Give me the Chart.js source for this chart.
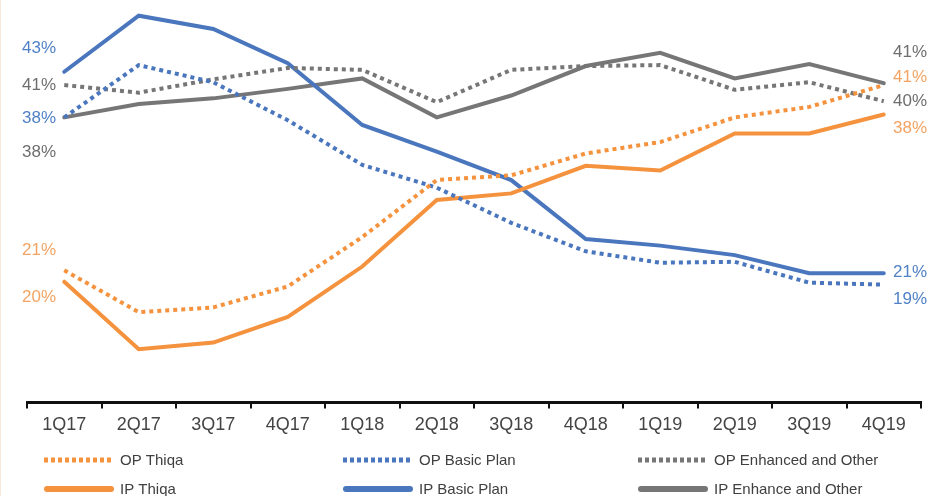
<!DOCTYPE html>
<html>
<head>
<meta charset="utf-8">
<script src="https://cdn.jsdelivr.net/npm/chart.js@4/dist/chart.umd.min.js"></script>
<style>
  html, body { margin: 0; padding: 0; background: #fff; }
  #wrap { position: relative; width: 929px; height: 496px; border-left: 1px solid #f6e9dc; box-sizing: border-box; }
</style>
</head>
<body>
<div id="wrap"><canvas id="chart" width="928" height="496"></canvas></div>
<script>
// 분기 라벨
const quarters = ["1Q17", "2Q17", "3Q17", "4Q17", "1Q18", "2Q18", "3Q18", "4Q18", "1Q19", "2Q19", "3Q19", "4Q19"];

// 시리즈 값 (%), 그림에서 읽은 추정치
const opThiqa    = [22.1, 17.7, 18.2, 20.4, 25.6, 31.6, 32.1, 34.4, 35.6, 38.2, 39.3, 41.6];
const ipThiqa    = [20.9, 13.8, 14.5, 17.2, 22.5, 29.5, 30.2, 33.1, 32.6, 36.5, 36.5, 38.5];
const opBasic    = [38.2, 43.7, 41.9, 37.9, 33.2, 30.8, 27.1, 24.1, 22.9, 23.0, 20.8, 20.6];
const ipBasic    = [43.0, 48.9, 47.5, 43.9, 37.4, 34.6, 31.6, 25.4, 24.7, 23.7, 21.8, 21.8];
const opEnhanced = [41.6, 40.8, 42.2, 43.4, 43.2, 39.8, 43.2, 43.6, 43.7, 41.1, 41.9, 39.9];
const ipEnhanced = [38.2, 39.6, 40.2, 41.2, 42.3, 38.2, 40.5, 43.6, 45.0, 42.3, 43.8, 41.8];

// 양 끝 표시 라벨
const startLabels = ["43%", "41%", "38%", "38%", "21%", "20%"];
const endLabels   = ["41%", "41%", "40%", "38%", "21%", "19%"];

const ORANGE = "#f5923e", BLUE = "#4a76bd", GRAY = "#767676";
const T_ORANGE = "#f3a463", T_BLUE = "#5181c6", T_GRAY = "#6e6e6e";

const dotted = { borderDash: [4, 4], borderCapStyle: "butt", borderWidth: 4 };
const solid = { borderWidth: 4, borderCapStyle: "round" };

const datasets = [
  { label: "OP Thiqa", data: opThiqa, borderColor: ORANGE, ...dotted },
  { label: "OP Basic Plan", data: opBasic, borderColor: BLUE, ...dotted },
  { label: "OP Enhanced and Other", data: opEnhanced, borderColor: GRAY, ...dotted },
  { label: "IP Thiqa", data: ipThiqa, borderColor: ORANGE, ...solid },
  { label: "IP Basic Plan", data: ipBasic, borderColor: BLUE, ...solid },
  { label: "IP Enhance and Other", data: ipEnhanced, borderColor: GRAY, ...solid },
].map(d => ({ ...d, pointRadius: 0, tension: 0, fill: false, clip: false }));

// 끝 라벨 + 범례를 직접 그림
const sideLabels = {
  id: "sideLabels",
  afterDraw(c) {
    const ctx = c.ctx;
    ctx.save();
    ctx.font = "17px 'Liberation Sans', Arial, sans-serif";
    ctx.textBaseline = "middle";
    const leftCols = [T_BLUE, T_GRAY, T_BLUE, T_GRAY, T_ORANGE, T_ORANGE];
    const leftY = [48, 85, 118, 152, 250, 297];
    ctx.textAlign = "right";
    startLabels.forEach((t, i) => { ctx.fillStyle = leftCols[i]; ctx.fillText(t, 55, leftY[i]); });
    const rightCols = [T_GRAY, T_ORANGE, T_GRAY, T_ORANGE, T_BLUE, T_BLUE];
    const rightY = [52, 77, 101, 128, 272, 299];
    ctx.textAlign = "left";
    endLabels.forEach((t, i) => { ctx.fillStyle = rightCols[i]; ctx.fillText(t, 892, rightY[i]); });

    // 범례 3열 x 2행
    const colX = [43, 342, 637], rowY = [460, 489];
    ctx.font = "15px 'Liberation Sans', Arial, sans-serif";
    c.data.datasets.forEach((ds, i) => {
      const x = colX[i % 3], y = rowY[Math.floor(i / 3)];
      ctx.strokeStyle = ds.borderColor;
      if (ds.borderDash) {
        ctx.setLineDash([4, 3]); ctx.lineWidth = 5; ctx.lineCap = "butt";
      } else {
        ctx.setLineDash([]); ctx.lineWidth = 6; ctx.lineCap = "round";
      }
      ctx.beginPath(); ctx.moveTo(x + (ds.borderDash ? 0 : 3), y); ctx.lineTo(x + 67, y); ctx.stroke();
      ctx.fillStyle = "#404040";
      ctx.fillText(ds.label, x + 76, y + 1);
    });
    ctx.restore();
  }
};

new Chart(document.getElementById("chart"), {
  type: "line",
  data: { labels: quarters, datasets },
  options: {
    responsive: false, animation: false,
    layout: { padding: { left: 26, right: 8, top: 10, bottom: 54 } },
    plugins: { legend: { display: false }, tooltip: { enabled: false } },
    scales: {
      x: {
        offset: true,
        grid: { offset: true, drawOnChartArea: false, color: "#111", lineWidth: 2, tickLength: 6 },
        border: { display: true, color: "#111", width: 3 },
        ticks: { color: "#444", padding: 6, font: { size: 18, family: "'Liberation Sans', Arial, sans-serif" }, maxRotation: 0 },
      },
      y: { display: false, min: 8.2, max: 49.5 },
    },
  },
  plugins: [sideLabels],
});
</script>
</body>
</html>
